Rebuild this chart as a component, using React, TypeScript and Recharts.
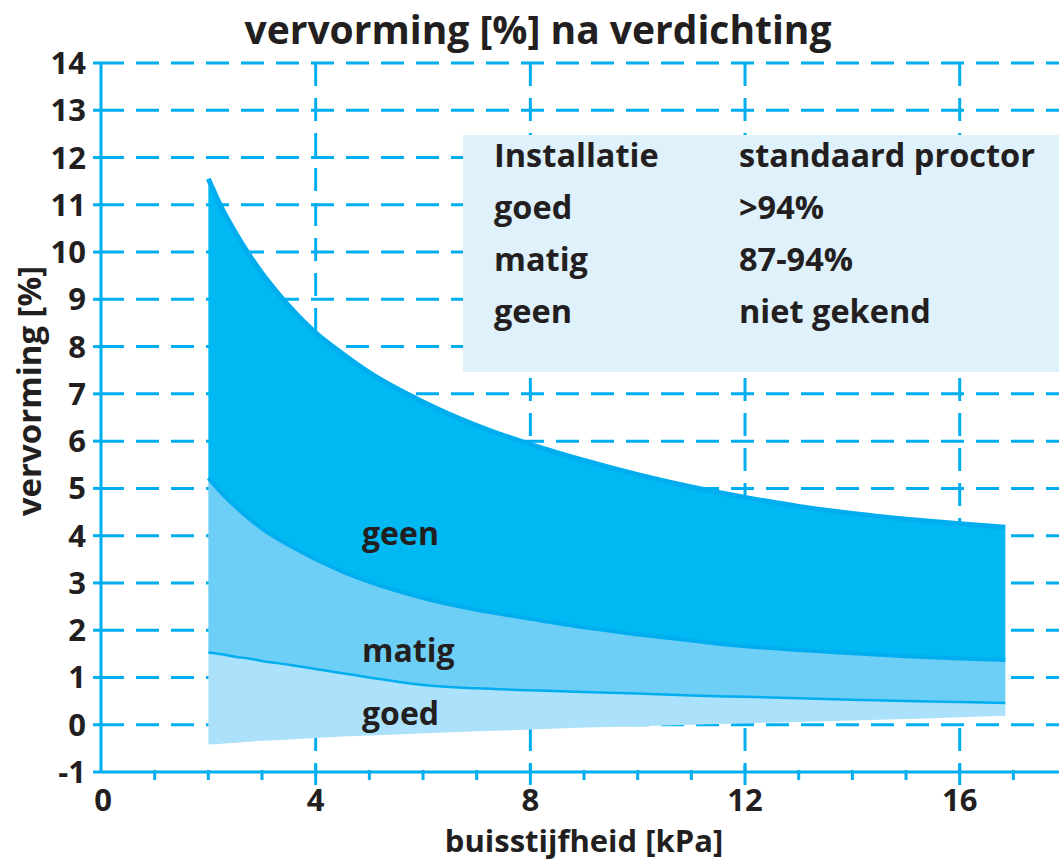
import React from "react";
import {
  ComposedChart,
  Area,
  Line,
  XAxis,
  YAxis,
  CartesianGrid,
} from "recharts";

const CYAN = "#00aeef";
const GEEN = "#00b9f2";
const MATIG = "#6dcff6";
const GOED = "#abe1fa";
const INK = "#231f20";
const BOX = "#dff1fb";
const FONT = "'Open Sans', 'Noto Sans', sans-serif";

// buisstijfheid [kPa]
const stiffness = [2, 2.25, 2.5, 2.75, 3, 3.5, 4, 4.5, 5, 6, 7, 8, 9, 10, 11, 12, 13, 14, 15, 16, 16.85];
// boundaries of the three bands, vervorming [%]
const geenUpper = [11.55, 10.93, 10.42, 9.96, 9.55, 8.86, 8.29, 7.85, 7.45, 6.83, 6.33, 5.93, 5.59, 5.29, 5.03, 4.81, 4.62, 4.47, 4.35, 4.25, 4.18];
const matigUpper = [5.22, 4.9, 4.62, 4.37, 4.15, 3.8, 3.5, 3.24, 3.02, 2.68, 2.43, 2.24, 2.06, 1.91, 1.78, 1.66, 1.58, 1.51, 1.45, 1.4, 1.37];
const goedUpper = [1.53, 1.49, 1.44, 1.4, 1.35, 1.27, 1.18, 1.09, 1.0, 0.84, 0.77, 0.73, 0.69, 0.66, 0.62, 0.59, 0.56, 0.53, 0.5, 0.48, 0.46];
const goedLower = [-0.42, -0.4, -0.38, -0.36, -0.34, -0.31, -0.28, -0.25, -0.23, -0.18, -0.14, -0.1, -0.06, -0.03, 0.0, 0.03, 0.06, 0.09, 0.12, 0.16, 0.19];

const xTicks = [0, 1, 2, 3, 4, 5, 6, 7, 8, 9, 10, 11, 12, 13, 14, 15, 16, 17];
const yTicks = [-1, 0, 1, 2, 3, 4, 5, 6, 7, 8, 9, 10, 11, 12, 13, 14];
const gridY = [0, 1, 2, 3, 4, 5, 6, 7, 8, 9, 10, 11, 12, 13, 14];
const gridX = [4, 8, 12, 16];

const legendRows = [
  ["Installatie", "standaard proctor"],
  ["goed", ">94%"],
  ["matig", "87-94%"],
  ["geen", "niet gekend"],
];

const data = stiffness.map((x, i) => ({
  x,
  top: geenUpper[i],
  mid: matigUpper[i],
  low: goedUpper[i],
  bottom: goedLower[i],
}));

function XTick(props: any) {
  const { x, y, payload } = props;
  const v = payload.value;
  const axisY = y - 17;
  const major = v % 4 === 0;
  if (v === 0) {
    return (
      <text x={x + 2} y={y} dy="0.71em" textAnchor="middle" fontSize={31} fontWeight={700} fill={INK} fontFamily={FONT}>
        0
      </text>
    );
  }
  return (
    <g>
      <line x1={x} x2={x} y1={major ? axisY - 7 : axisY - 2} y2={major ? axisY + 13 : axisY + 8} stroke={CYAN} strokeWidth={3} />
      {major && (
        <text x={x} y={y} dy="0.71em" textAnchor="middle" fontSize={31} fontWeight={700} fill={INK} fontFamily={FONT}>
          {v}
        </text>
      )}
    </g>
  );
}

export default function App() {
  return (
    <div style={{ position: "absolute", left: 0, top: 0, width: 1059, height: 861, background: "#fff" }}>
      <ComposedChart
        width={1059}
        height={861}
        data={data}
        margin={{ top: 63, right: 0, bottom: 0, left: 0 }}
      >
        <CartesianGrid
          stroke={CYAN}
          strokeWidth={3}
          strokeDasharray="23 12"
          horizontalValues={gridY}
          verticalValues={gridX}
        />
        <XAxis
          type="number"
          dataKey="x"
          domain={[0, 17.85]}
          ticks={xTicks}
          interval={0}
          allowDataOverflow
          height={89}
          tickSize={8}
          tickMargin={9}
          tickLine={false}
          axisLine={{ stroke: CYAN, strokeWidth: 3 }}
          tick={<XTick />}
        />
        <YAxis
          type="number"
          domain={[-1, 14]}
          ticks={yTicks}
          interval={0}
          width={101}
          tickSize={8}
          tickMargin={7}
          axisLine={{ stroke: CYAN, strokeWidth: 3 }}
          tickLine={{ stroke: CYAN, strokeWidth: 3 }}
          tick={{ fontSize: 31, fontWeight: 700, fill: INK, fontFamily: FONT }}
        />
        <Area
          type="monotone"
          dataKey={(d: any) => [d.mid, d.top]}
          fill={GEEN}
          fillOpacity={1}
          stroke="none"
          isAnimationActive={false}
        />
        <Area
          type="monotone"
          dataKey={(d: any) => [d.low, d.mid]}
          fill={MATIG}
          fillOpacity={1}
          stroke="none"
          isAnimationActive={false}
        />
        <Area
          type="monotone"
          dataKey={(d: any) => [d.bottom, d.low]}
          fill={GOED}
          fillOpacity={1}
          stroke="none"
          isAnimationActive={false}
        />
        <Line type="monotone" dataKey="top" stroke={CYAN} strokeWidth={5} dot={false} isAnimationActive={false} />
        <Line type="monotone" dataKey="mid" stroke={CYAN} strokeWidth={4} dot={false} isAnimationActive={false} />
        <Line type="monotone" dataKey="low" stroke={CYAN} strokeWidth={2.5} dot={false} isAnimationActive={false} />
      </ComposedChart>

      <svg
        width={1059}
        height={861}
        style={{ position: "absolute", left: 0, top: 0, pointerEvents: "none" }}
        fontFamily={FONT}
        fill={INK}
      >
        <text x={538} y={44} textAnchor="middle" fontSize={39} fontWeight={700}>
          vervorming [%] na verdichting
        </text>
        <text x={584} y={852} textAnchor="middle" fontSize={31} fontWeight={700}>
          buisstijfheid [kPa]
        </text>
        <text x={41} y={391} textAnchor="middle" fontSize={33} fontWeight={700} transform="rotate(-90 41 391)">
          vervorming [%]
        </text>

        <rect x={463} y={135} width={600} height={237} fill={BOX} />
        {legendRows.map((row, i) => (
          <g key={row[0]} fontSize={32.5} fontWeight={700}>
            <text x={494} y={167 + i * 52}>{row[0]}</text>
            <text x={739} y={167 + i * 52}>{row[1]}</text>
          </g>
        ))}

        <g fontSize={32} fontWeight={700}>
          <text x={362} y={545}>geen</text>
          <text x={362} y={662}>matig</text>
          <text x={362} y={725}>goed</text>
        </g>
      </svg>
    </div>
  );
}
